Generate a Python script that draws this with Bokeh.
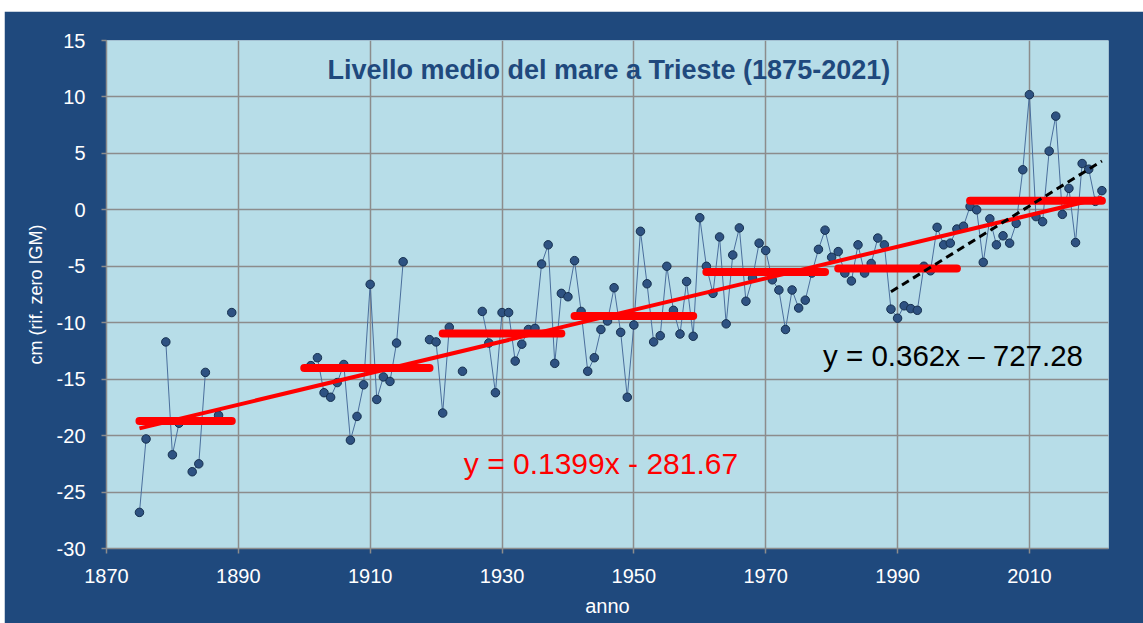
from bokeh.plotting import figure
from bokeh.models import Label, FixedTicker, Spacer
from bokeh.layouts import column, row
from bokeh.embed import file_html
from bokeh.resources import INLINE
import numpy as np

nan = float("nan")

# Annual mean sea level at Trieste (cm, ref. zero IGM); NaN = missing year
years = list(range(1875, 2022))
values = [
    -26.8, -20.3, nan, nan, -11.7, -21.7, -18.9, nan, -23.2, -22.5,   # 1875-1884
    -14.4, nan, -18.2, nan, -9.1,                                      # 1885-1889
    nan, nan, nan, nan, nan, nan, nan, nan, nan, nan, nan,             # 1890-1900
    -13.8, -13.1, -16.2, -16.6, -15.3, -13.7, -20.4, -18.3, -15.5,     # 1901-1909
    -6.6, -16.8, -14.8, -15.2, -11.8, -4.6, nan, nan, nan, -11.5,      # 1910-1919
    -11.7, -18.0, -10.4, nan, -14.3, nan, nan, -9.0, -11.8, -16.2,     # 1920-1929
    -9.1, -9.1, -13.4, -11.9, -10.6, -10.5, -4.8, -3.1, -13.6, -7.4,   # 1930-1939
    -7.7, -4.5, -9.0, -14.3, -13.1, -10.6, -9.85, -6.9, -10.85, -16.6, # 1940-1949
    -10.2, -1.9, -6.55, -11.7, -11.15, -5.0, -8.9, -11.0, -6.35, -11.2,# 1950-1959
    -0.7, -5.0, -7.4, -2.4, -10.1, -4.0, -1.6, -8.1, -6.05, -2.95,     # 1960-1969
    -3.6, -6.2, -7.1, -10.6, -7.1, -8.7, -8.0, -5.6, -3.5, -1.8,       # 1970-1979
    -4.2, -3.7, -5.6, -6.3, -3.1, -5.6, -4.75, -2.5, -3.1, -8.8,       # 1980-1989
    -9.6, -8.5, -8.75, -8.9, -5.0, -5.4, -1.55, -3.1, -2.95, -1.7,     # 1990-1999
    -1.45, 0.3, 0.0, -4.65, -0.8, -3.1, -2.3, -2.95, -1.2, 3.55,       # 2000-2009
    10.2, -0.6, -1.05, 5.2, 8.3, -0.4, 1.9, -2.9, 4.1, 3.6,            # 2010-2019
    0.75, 1.7,                                                          # 2020-2021
]

# Period means (red horizontal segments)
period_start = [1875, 1900, 1921, 1941, 1961, 1981, 2001]
period_end = [1889, 1919, 1939, 1959, 1979, 1999, 2021]
period_mean = [-18.7, -14.0, -10.95, -9.4, -5.5, -5.2, 0.8]

# Linear trends
red_slope, red_intercept, red_range = 0.1399, -281.67, [1875, 2021]
blk_slope, blk_intercept, blk_range = 0.362, -727.28, [1989, 2021]

title_text = "Livello medio del mare a Trieste (1875-2021)"
red_eq = "y = 0.1399x - 281.67"
blk_eq = "y = 0.362x \u2013 727.28"

x_ticks = list(range(1870, 2011, 20))
y_ticks = list(range(-30, 16, 5))

DARK = "#1f497d"
FONT = "Liberation Sans"

p = figure(width=1139, height=612, x_range=(1870, 2022), y_range=(-30, 15),
           output_backend="svg", toolbar_location=None,
           min_border_left=102, min_border_right=35, min_border_top=29, min_border_bottom=75,
           background_fill_color="#b7dde8", border_fill_color=DARK)
p.outline_line_color = None

for ax in (p.xaxis, p.yaxis):
    ax.axis_line_color = "#8c8c8c"
    ax.axis_line_width = 1.5
    ax.major_tick_line_color = "#8c8c8c"
    ax.major_tick_line_width = 1.5
    ax.major_tick_out = 5
    ax.major_tick_in = 0
    ax.minor_tick_line_color = None
    ax.major_label_text_color = "white"
    ax.major_label_text_font = FONT
    ax.major_label_text_font_size = "20px"
    ax.axis_label_text_color = "white"
    ax.axis_label_text_font = FONT
    ax.axis_label_text_font_style = "normal"

p.xaxis.ticker = FixedTicker(ticks=x_ticks)
p.yaxis.ticker = FixedTicker(ticks=y_ticks)
p.yaxis.major_label_overrides = {v: str(v) for v in y_ticks}
p.xaxis.major_label_overrides = {v: str(v) for v in x_ticks}
p.xaxis.major_label_standoff = 15
p.yaxis.major_label_standoff = 16
p.xaxis.axis_label = "anno"
p.yaxis.axis_label = "cm (rif. zero IGM)"
p.xaxis.axis_label_text_font_size = "20px"
p.yaxis.axis_label_text_font_size = "18px"
p.xaxis.axis_label_standoff = 9
p.yaxis.axis_label_standoff = 8

for g in (p.xgrid, p.ygrid):
    g.grid_line_color = "#8c8c8c"
    g.grid_line_width = 1.5
p.xgrid.ticker = FixedTicker(ticks=x_ticks)
p.ygrid.ticker = FixedTicker(ticks=y_ticks)

# data series
p.line(years, values, line_color="#4a6e9c", line_width=1)
p.scatter(years, values, size=8.5, fill_color="#2e5282", line_color="#16304f", line_width=1)

# period means
p.segment(x0=period_start, y0=period_mean, x1=period_end, y1=period_mean,
          line_color="#ff0000", line_width=8, line_cap="round")

# red trend
rx = np.array(red_range, dtype=float)
p.line(rx, red_slope * rx + red_intercept, line_color="#ff0000", line_width=4)

# black dashed trend
bx = np.array(blk_range, dtype=float)
p.line(bx, blk_slope * bx + blk_intercept, line_color="black", line_width=3, line_dash="8 5")

p.add_layout(Label(x=1946.2, y=12.35, text=title_text, text_align="center", text_baseline="middle",
                   text_font=FONT, text_font_style="bold", text_font_size="27px", text_color=DARK))
p.add_layout(Label(x=1924.2, y=-22.5, text=red_eq, text_align="left", text_baseline="middle",
                   text_font=FONT, text_font_size="30px", text_color="#ff0000"))
p.add_layout(Label(x=1978.7, y=-12.9, text=blk_eq, text_align="left", text_baseline="middle",
                   text_font=FONT, text_font_size="29.5px", text_color="black"))

layout = column(Spacer(height=11, width=1143), row(Spacer(width=4, height=612), p))

open("out.html", "w").write(file_html(layout, INLINE))
